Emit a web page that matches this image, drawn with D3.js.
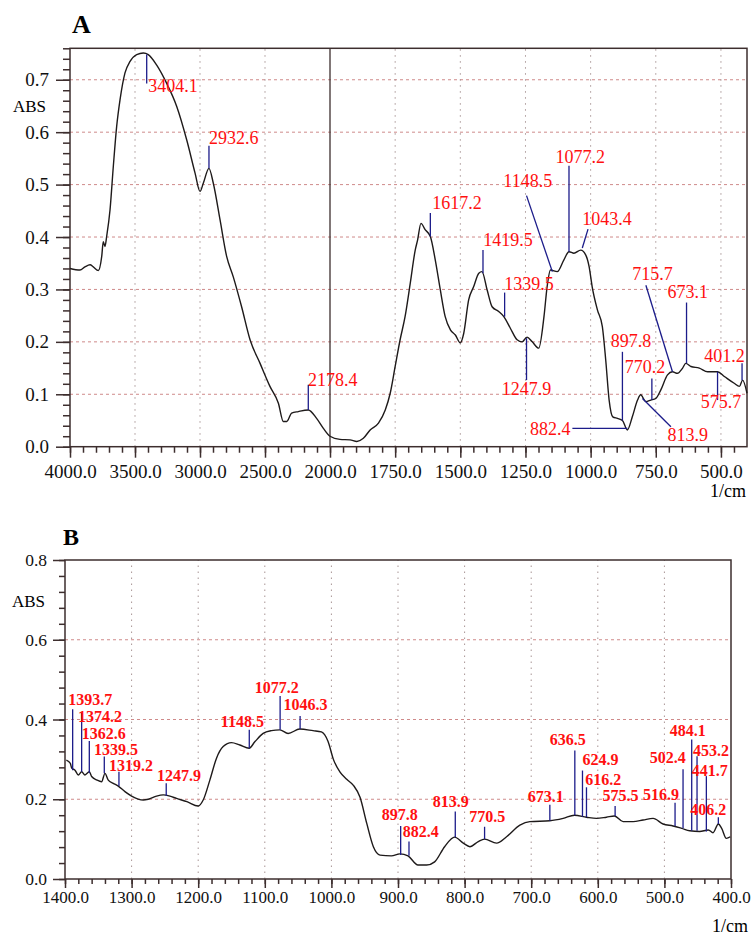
<!DOCTYPE html>
<html>
<head>
<meta charset="utf-8">
<script src="https://cdn.jsdelivr.net/npm/d3@7"></script>
<style>
  body { margin: 0; background: #fff; }
  svg { display: block; font-family: "Liberation Serif", "Times New Roman", serif; }
</style>
</head>
<body>
<div id="chart"></div>
<script>
const width = 751, height = 936;

// ---- Panel A spectrum (wavenumber, absorbance)
const wnA = [4000, 3923, 3885, 3846, 3821, 3782, 3756, 3744, 3731, 3718, 3692, 3667, 3641, 3615, 3577,
  3538, 3487, 3436, 3398, 3333, 3256, 3179, 3102, 3038, 3000, 2974, 2931, 2898, 2846, 2795, 2744,
  2680, 2615, 2538, 2462, 2397, 2359, 2333, 2295, 2244, 2167, 2103, 2051, 2000, 1962, 1923, 1897,
  1872, 1846, 1814, 1788, 1769, 1750, 1731, 1712, 1692, 1673, 1664, 1651, 1635, 1615, 1596, 1577,
  1558, 1538, 1519, 1500, 1487, 1468, 1449, 1429, 1417, 1397, 1378, 1353, 1333, 1308, 1282, 1263,
  1244, 1224, 1199, 1179, 1167, 1154, 1128, 1103, 1083, 1064, 1038, 1019, 1006, 994, 974, 955, 942,
  929, 915, 897, 878, 859, 840, 820, 808, 788, 769, 750, 731, 705, 686, 667, 647, 635, 615, 583,
  551, 513, 487, 449, 429, 417, 400];
const absA = [0.340, 0.337, 0.343, 0.347, 0.343, 0.336, 0.363, 0.391, 0.382, 0.401, 0.452, 0.534, 0.611, 0.662, 0.713,
  0.735, 0.748, 0.751, 0.748, 0.728, 0.693, 0.649, 0.585, 0.522, 0.487, 0.503, 0.531, 0.503, 0.433, 0.363, 0.324,
  0.267, 0.204, 0.159, 0.115, 0.083, 0.048, 0.048, 0.064, 0.067, 0.070, 0.054, 0.035, 0.020, 0.014, 0.013, 0.010,
  0.016, 0.032, 0.045, 0.070, 0.102, 0.153, 0.204, 0.248, 0.312, 0.375, 0.394, 0.426, 0.414, 0.401, 0.356, 0.300,
  0.248, 0.223, 0.213, 0.198, 0.216, 0.280, 0.305, 0.331, 0.334, 0.299, 0.267, 0.258, 0.248, 0.226, 0.204, 0.200,
  0.209, 0.200, 0.188, 0.248, 0.305, 0.337, 0.334, 0.356, 0.372, 0.369, 0.375, 0.366, 0.344, 0.305, 0.261, 0.229, 0.165,
  0.089, 0.057, 0.054, 0.050, 0.032, 0.057, 0.089, 0.099, 0.086, 0.089, 0.092, 0.108, 0.137, 0.143, 0.140, 0.150, 0.159, 0.153, 0.150,
  0.143, 0.143, 0.134, 0.121, 0.115, 0.127, 0.102];

// peak markers: label text, marker line [wn1, abs1, wn2, abs2], label anchor [wn, abs], text anchor
const peaksA = [
  { t: "3404.1", l: [3410, 0.748, 3410, 0.693], p: [3398, 0.677], a: "start" },
  { t: "2932.6", l: [2931, 0.531, 2931, 0.574], p: [2931, 0.578], a: "start" },
  { t: "2178.4", l: [2167, 0.070, 2167, 0.118], p: [2170, 0.116], a: "start" },
  { t: "1617.2", l: [1615, 0.401, 1615, 0.446], p: [1608, 0.453], a: "start" },
  { t: "1419.5", l: [1413, 0.331, 1413, 0.375], p: [1412, 0.382], a: "start" },
  { t: "1339.5", l: [1330, 0.294, 1330, 0.248], p: [1331, 0.298], a: "start" },
  { t: "1247.9", l: [1246, 0.207, 1246, 0.127], p: [1246, 0.099], a: "middle" },
  { t: "1148.5", l: [1246, 0.479, 1147, 0.334], p: [1335, 0.495], a: "start" },
  { t: "1077.2", l: [1083, 0.536, 1083, 0.372], p: [1135, 0.541], a: "start" },
  { t: "1043.4", l: [1010, 0.415, 1032, 0.379], p: [1032, 0.422], a: "start" },
  { t: "715.7", l: [788, 0.308, 686, 0.143], p: [840, 0.318], a: "start" },
  { t: "673.1", l: [632, 0.275, 632, 0.159], p: [705, 0.283], a: "start" },
  { t: "897.8", l: [878, 0.181, 878, 0.050], p: [923, 0.190], a: "start" },
  { t: "882.4", l: [1070, 0.035, 859, 0.035], p: [1077, 0.022], a: "end" },
  { t: "770.2", l: [765, 0.130, 765, 0.089], p: [869, 0.140], a: "start" },
  { t: "813.9", l: [801, 0.092, 692, 0.038], p: [705, 0.010], a: "start" },
  { t: "401.2", l: [419, 0.159, 419, 0.127], p: [564, 0.162], a: "start" },
  { t: "575.7", l: [513, 0.143, 513, 0.089], p: [577, 0.073], a: "start" }
];

// ---- Panel B spectrum
const wnB = [1398, 1392, 1390, 1385, 1380, 1375, 1370, 1363.5, 1360, 1352, 1345, 1340, 1335, 1327.5, 1320,
  1310, 1300, 1282.5, 1275, 1262.5, 1252.5, 1242.5, 1232.5, 1217, 1200, 1192.5, 1182.5, 1172.5, 1162.5,
  1150, 1137.5, 1123.5, 1115, 1102.5, 1090, 1077.5, 1065, 1047.5, 1027.5, 1015, 1005, 997, 987, 977,
  967, 957, 947, 937, 927, 910, 897, 885, 870, 857, 845, 830, 815, 802, 792, 779.5, 770, 752, 737,
  717, 702, 672, 652, 635, 617, 602, 587, 575, 562, 547, 532, 517, 502, 487, 474, 462, 447, 434, 427,
  419, 414, 407, 401];
const absB = [0.298, 0.290, 0.278, 0.273, 0.261, 0.269, 0.261, 0.269, 0.257, 0.248, 0.244, 0.265, 0.248, 0.240, 0.233,
  0.219, 0.208, 0.198, 0.200, 0.208, 0.211, 0.208, 0.202, 0.194, 0.183, 0.198, 0.248, 0.303, 0.332,
  0.342, 0.336, 0.328, 0.344, 0.365, 0.372, 0.374, 0.365, 0.376, 0.372, 0.369, 0.345, 0.300, 0.268, 0.250,
  0.235, 0.205, 0.140, 0.081, 0.060, 0.058, 0.063, 0.058, 0.035, 0.035, 0.043, 0.081, 0.105, 0.090, 0.081, 0.094, 0.100, 0.090, 0.106,
  0.135, 0.144, 0.146, 0.152, 0.160, 0.155, 0.152, 0.155, 0.158, 0.144, 0.144, 0.148, 0.152, 0.138, 0.133, 0.127, 0.121, 0.119, 0.123, 0.116,
  0.138, 0.127, 0.102, 0.106];

const peaksB = [
  { t: "1393.7", l: [1388.5, 0.273, 1388.5, 0.426], p: [1395, 0.436] },
  { t: "1374.2", l: [1375, 0.269, 1375, 0.417], p: [1380.5, 0.394] },
  { t: "1362.6", l: [1363.5, 0.266, 1363.5, 0.346], p: [1375, 0.351] },
  { t: "1339.5", l: [1341, 0.265, 1341, 0.307], p: [1356.5, 0.311] },
  { t: "1319.2", l: [1319, 0.233, 1319, 0.269], p: [1334, 0.270] },
  { t: "1247.9", l: [1248, 0.208, 1248, 0.240], p: [1262, 0.247] },
  { t: "1148.5", l: [1123.3, 0.328, 1123.3, 0.374], p: [1166, 0.382] },
  { t: "1077.2", l: [1077, 0.374, 1077, 0.459], p: [1115, 0.466] },
  { t: "1046.3", l: [1047, 0.376, 1047, 0.409], p: [1072, 0.424] },
  { t: "897.8", l: [896, 0.060, 896, 0.133], p: [924.5, 0.148] },
  { t: "882.4", l: [883.5, 0.058, 883.5, 0.094], p: [893, 0.105] },
  { t: "813.9", l: [814, 0.105, 814, 0.169], p: [848, 0.180] },
  { t: "770.5", l: [770, 0.100, 770, 0.131], p: [793, 0.144] },
  { t: "673.1", l: [672, 0.146, 672, 0.186], p: [705, 0.194] },
  { t: "636.5", l: [634.5, 0.160, 634.5, 0.322], p: [672, 0.336] },
  { t: "624.9", l: [623, 0.156, 623, 0.272], p: [623, 0.286] },
  { t: "616.2", l: [617, 0.155, 617, 0.230], p: [619, 0.236] },
  { t: "575.5", l: [574, 0.158, 574, 0.183], p: [593, 0.196] },
  { t: "516.9", l: [484, 0.133, 484, 0.191], p: [532, 0.198] },
  { t: "502.4", l: [472, 0.127, 472, 0.275], p: [522, 0.290] },
  { t: "484.1", l: [459, 0.121, 459, 0.350], p: [492, 0.359] },
  { t: "453.2", l: [451, 0.121, 451, 0.308], p: [457, 0.308] },
  { t: "441.7", l: [437, 0.119, 437, 0.258], p: [459, 0.258] },
  { t: "406.2", l: [419, 0.138, 419, 0.155], p: [461, 0.160] }
];

// ---- ticks
const xMajorA = [4000, 3500, 3000, 2500, 2000, 1750, 1500, 1250, 1000, 750, 500];
const xMinorA = d3.range(4000, 2000, -100).concat(d3.range(2000, 449, -50));
const yMajorA = [0, 0.1, 0.2, 0.3, 0.4, 0.5, 0.6, 0.7];
const yMinorA = d3.range(0, 0.761, 0.02);
const xMajorB = [1400, 1300, 1200, 1100, 1000, 900, 800, 700, 600, 500, 400];
const xMinorB = d3.range(1400, 399, -20);
const yMajorB = [0, 0.2, 0.4, 0.6, 0.8];
const yMinorB = d3.range(0, 0.801, 0.04);

const axisColor = "#3d2e2e",
  lineColor = "#1e1a1a",
  markColor = "#1c1c8a",
  labelColor = "#ff1010";

const svg = d3.select("#chart")
  .append("svg")
  .attr("width", width)
  .attr("height", height);

function drawPanel(o) {
  const g = svg.append("g");
  const xr = o.x.range();
  const x0 = xr[0], x1 = xr[xr.length - 1];
  const [yb, yt] = o.y.range();

  // grid
  g.selectAll(".hgrid")
    .data(o.yMajor.filter(d => d > 0 && o.y(d) > yt + 1))
    .join("line")
    .attr("x1", x0).attr("x2", x1)
    .attr("y1", d => o.y(d)).attr("y2", d => o.y(d))
    .attr("stroke", "#cf8a8a").attr("stroke-width", 1)
    .attr("stroke-dasharray", "3,3");
  g.selectAll(".vgrid")
    .data(o.xMajor.filter(d => o.x(d) > x0 + 1 && o.x(d) < x1 - 1 && d !== o.solid))
    .join("line")
    .attr("x1", d => o.x(d)).attr("x2", d => o.x(d))
    .attr("y1", yb).attr("y2", yt)
    .attr("stroke", "#a89595").attr("stroke-width", 1)
    .attr("stroke-dasharray", "1.5,4.5");

  if (o.solid) {
    g.append("line")
      .attr("x1", o.x(o.solid)).attr("x2", o.x(o.solid))
      .attr("y1", yb).attr("y2", yt)
      .attr("stroke", axisColor).attr("stroke-width", 1.3);
  }

  // frame
  g.append("rect")
    .attr("x", x0).attr("y", yt)
    .attr("width", x1 - x0).attr("height", yb - yt)
    .attr("fill", "none").attr("stroke", axisColor).attr("stroke-width", 1.5);

  // axes
  const xAx = g.append("g").attr("transform", `translate(0,${yb})`)
    .call(d3.axisBottom(o.x).tickValues(o.xMajor).tickSize(o.xTick).tickFormat(d3.format(".1f")));
  g.append("g").attr("transform", `translate(0,${yb})`)
    .call(d3.axisBottom(o.x).tickValues(o.xMinor).tickSize(o.xTick * 0.55).tickFormat(""));
  const yAx = g.append("g").attr("transform", `translate(${x0},0)`)
    .call(d3.axisLeft(o.y).tickValues(o.yMajor).tickSize(o.yTick).tickPadding(o.yPad).tickFormat(d3.format(".1f")));
  g.append("g").attr("transform", `translate(${x0},0)`)
    .call(d3.axisLeft(o.y).tickValues(o.yMinor).tickSize(o.yTick * 0.5).tickFormat(""));

  g.selectAll(".domain").remove();
  g.selectAll(".tick line").attr("stroke", axisColor).attr("stroke-width", 1.5);
  xAx.selectAll("text").attr("y", o.xLabY).attr("dy", 0)
    .attr("font-size", o.xFont).attr("fill", "#111").attr("font-family", "Liberation Serif, serif");
  yAx.selectAll("text")
    .attr("font-size", o.yFont).attr("fill", "#111").attr("font-family", "Liberation Serif, serif");

  // spectrum
  const line = d3.line()
    .x(d => o.x(d[0]))
    .y(d => o.y(d[1]))
    .curve(d3.curveMonotoneX);
  g.append("path")
    .datum(d3.zip(o.wn, o.abs))
    .attr("d", line)
    .attr("fill", "none")
    .attr("stroke", lineColor)
    .attr("stroke-width", 1.4);

  // peak markers
  g.selectAll(".mk")
    .data(o.peaks)
    .join("line")
    .attr("x1", d => o.x(d.l[0])).attr("y1", d => o.y(d.l[1]))
    .attr("x2", d => o.x(d.l[2])).attr("y2", d => o.y(d.l[3]))
    .attr("stroke", markColor).attr("stroke-width", 1.3);
  g.selectAll(".pk")
    .data(o.peaks)
    .join("text")
    .attr("x", d => o.x(d.p[0])).attr("y", d => o.y(d.p[1]))
    .attr("text-anchor", d => d.a || "start")
    .attr("fill", labelColor)
    .attr("font-size", o.pkSize)
    .attr("font-weight", o.pkWeight)
    .text(d => d.t);

  // titles
  g.append("text").attr("x", o.titleX).attr("y", o.titleY)
    .attr("font-size", o.titleSize).attr("font-weight", "bold").text(o.title);
  g.append("text").attr("x", o.absX).attr("y", o.absY)
    .attr("font-size", 17).text("ABS");
  g.append("text").attr("x", o.unitX).attr("y", o.unitY)
    .attr("font-size", 18).attr("text-anchor", "end").text("1/cm");
}

const xA = d3.scaleLinear().domain([4000, 2000, 400]).range([70, 330, 747]);
const yA = d3.scaleLinear().domain([0, 0.76]).range([446.7, 48.3]);
const xB = d3.scaleLinear().domain([1400, 400]).range([65, 731]);
const yB = d3.scaleLinear().domain([0, 0.8]).range([879, 560]);

drawPanel({
  x: xA, y: yA, wn: wnA, abs: absA, peaks: peaksA,
  xMajor: xMajorA, xMinor: xMinorA, yMajor: yMajorA, yMinor: yMinorA,
  xTick: 11, yTick: 14, yPad: 7, xLabY: 31, xFont: 19, yFont: 19, solid: 2000,
  pkSize: 18, pkWeight: "normal",
  title: "A", titleX: 72, titleY: 33, titleSize: 26,
  absX: 13, absY: 112, unitX: 746, unitY: 497
});

drawPanel({
  x: xB, y: yB, wn: wnB, abs: absB, peaks: peaksB,
  xMajor: xMajorB, xMinor: xMinorB, yMajor: yMajorB, yMinor: yMinorB,
  xTick: 9, yTick: 12, yPad: 6, xLabY: 24, xFont: 17, yFont: 17.5, solid: null,
  pkSize: 16, pkWeight: "bold",
  title: "B", titleX: 63, titleY: 545, titleSize: 24,
  absX: 12, absY: 607, unitX: 748, unitY: 932
});
</script>
</body>
</html>
